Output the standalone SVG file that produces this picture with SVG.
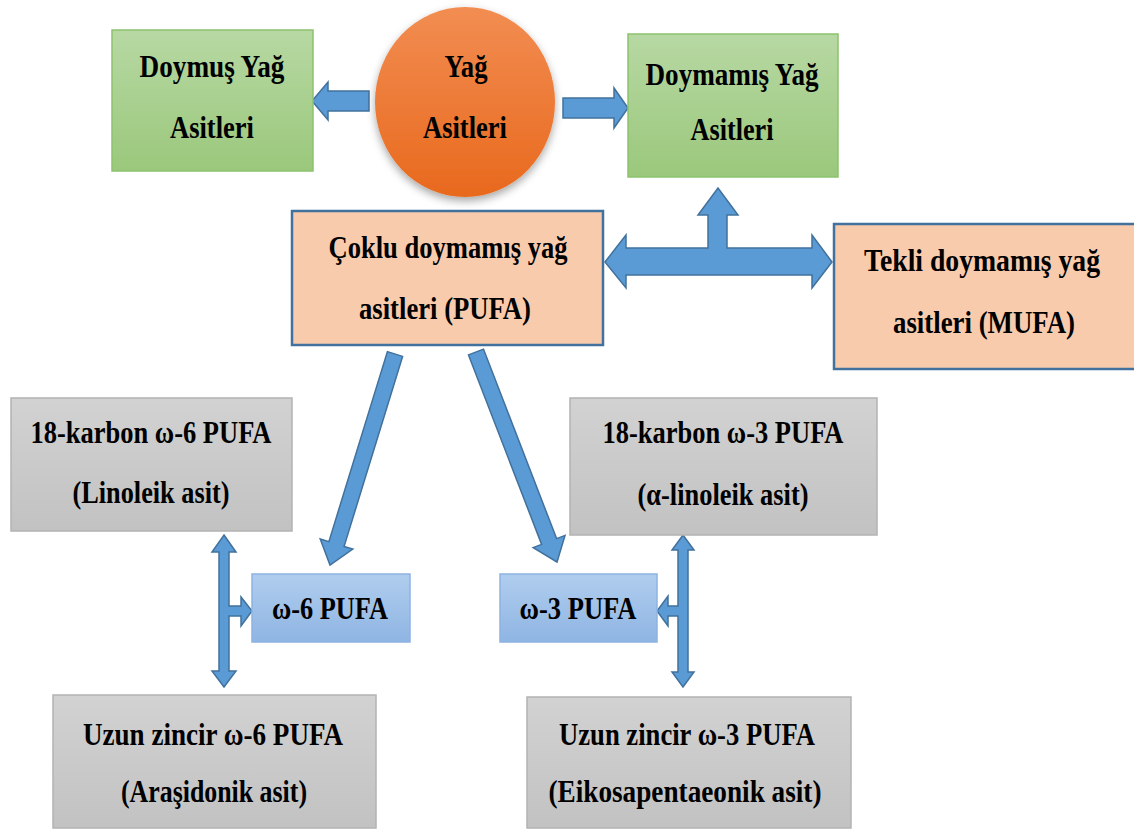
<svg xmlns="http://www.w3.org/2000/svg" width="1134" height="831" viewBox="0 0 1134 831">
<defs>
<linearGradient id="gGreen" x1="0" y1="0" x2="0" y2="1"><stop offset="0" stop-color="#b7d8a3"/><stop offset="1" stop-color="#9bc87c"/></linearGradient>
<linearGradient id="gOrange" x1="0" y1="0" x2="0" y2="1"><stop offset="0" stop-color="#f28d52"/><stop offset="1" stop-color="#e8691d"/></linearGradient>
<linearGradient id="gGray" x1="0" y1="0" x2="0" y2="1"><stop offset="0" stop-color="#d2d2d2"/><stop offset="1" stop-color="#c2c2c2"/></linearGradient>
<linearGradient id="gBlue" x1="0" y1="0" x2="0" y2="1"><stop offset="0" stop-color="#b0cdee"/><stop offset="1" stop-color="#8fb5e3"/></linearGradient>
<filter id="shadow" x="-20%" y="-20%" width="140%" height="150%"><feDropShadow dx="0" dy="4" stdDeviation="4" flood-color="#000" flood-opacity="0.35"/></filter>
</defs>
<style>
.t{font-family:"Liberation Serif","Times New Roman",serif;font-weight:bold;font-size:31px;fill:#000;text-anchor:middle}
.green{fill:url(#gGreen);stroke:#8dc26d;stroke-width:1.5}
.peach{fill:#f8cbad;stroke:#41719c;stroke-width:2.5}
.gray{fill:url(#gGray);stroke:#b3b3b3;stroke-width:1.5}
.blue{fill:url(#gBlue);stroke:#8db3e2;stroke-width:1.5}
.arrow{fill:#5b9bd5;stroke:#41719c;stroke-width:1.5;stroke-linejoin:miter}
</style>
<rect width="1134" height="831" fill="#fff"/>
<g id="connectors">
<polygon class="arrow" points="369,91 328,91 328,82 312,101 328,120 328,111 369,111"/>
<polygon class="arrow" points="563,98 614,98 614,88 628,108 614,128 614,118 563,118"/>
<polygon class="arrow" points="605,262 626,235 626,248 708,248 708,215 698,215 718,188 738,215 727,215 727,248 812,248 812,235 832,262 812,288 812,275 626,275 626,288"/>
<polygon class="arrow" points="387.4,351.6 328.9,541.6 320.2,539 330,565 352.8,549 344.1,546.4 402.6,356.4"/>
<polygon class="arrow" points="468.5,354.9 541.6,544.4 533.2,547.6 557,562 565,535.4 556.6,538.6 483.5,349.1"/>
<polygon class="arrow" points="224,535 236,552 229,552 229,606 241,606 241,597 252,611 241,626 241,616 229,616 229,671 236,671 224,687 212,671 219,671 219,552 212,552"/>
<polygon class="arrow" points="683,535 694,550 688,550 688,672 694,672 683,687 672,672 678,672 678,616 668,616 668,626 657,611 668,596 668,606 678,606 678,550 672,550"/>
</g>
<g id="doymus">
<rect class="green" x="112" y="30" width="201" height="141"/>
<text class="t" x="212" y="77" textLength="145" lengthAdjust="spacingAndGlyphs">Doymuş Yağ</text>
<text class="t" x="212" y="138" textLength="84" lengthAdjust="spacingAndGlyphs">Asitleri</text>
</g>
<g id="yag">
<ellipse cx="465" cy="102" rx="90" ry="95" fill="url(#gOrange)" filter="url(#shadow)"/>
<text class="t" x="466" y="77" textLength="43" lengthAdjust="spacingAndGlyphs">Yağ</text>
<text class="t" x="465" y="138" textLength="84" lengthAdjust="spacingAndGlyphs">Asitleri</text>
</g>
<g id="doymamis">
<rect class="green" x="628" y="34" width="210" height="143"/>
<text class="t" x="732" y="85" textLength="173" lengthAdjust="spacingAndGlyphs">Doymamış Yağ</text>
<text class="t" x="732" y="140" textLength="83" lengthAdjust="spacingAndGlyphs">Asitleri</text>
</g>
<g id="pufa">
<rect class="peach" x="292" y="211" width="311" height="134"/>
<text class="t" x="448" y="258" textLength="239" lengthAdjust="spacingAndGlyphs">Çoklu doymamış yağ</text>
<text class="t" x="445" y="319" textLength="172" lengthAdjust="spacingAndGlyphs">asitleri (PUFA)</text>
</g>
<g id="mufa">
<rect class="peach" x="834" y="224" width="302" height="145"/>
<text class="t" x="982" y="271" textLength="236" lengthAdjust="spacingAndGlyphs">Tekli doymamış yağ</text>
<text class="t" x="984" y="333" textLength="182" lengthAdjust="spacingAndGlyphs">asitleri (MUFA)</text>
</g>
<g id="c18w6">
<rect class="gray" x="11" y="398" width="281" height="133"/>
<text class="t" x="151" y="443" textLength="241" lengthAdjust="spacingAndGlyphs">18-karbon ω-6 PUFA</text>
<text class="t" x="151" y="503" textLength="157" lengthAdjust="spacingAndGlyphs">(Linoleik asit)</text>
</g>
<g id="c18w3">
<rect class="gray" x="570" y="398" width="307" height="137"/>
<text class="t" x="723" y="443" textLength="241" lengthAdjust="spacingAndGlyphs">18-karbon ω-3 PUFA</text>
<text class="t" x="723" y="505" textLength="171" lengthAdjust="spacingAndGlyphs">(α-linoleik asit)</text>
</g>
<g id="w6">
<rect class="blue" x="252" y="574" width="158" height="68"/>
<text class="t" x="330" y="619" textLength="116" lengthAdjust="spacingAndGlyphs">ω-6 PUFA</text>
</g>
<g id="w3">
<rect class="blue" x="500" y="574" width="157" height="68"/>
<text class="t" x="578" y="619" textLength="117" lengthAdjust="spacingAndGlyphs">ω-3 PUFA</text>
</g>
<g id="uzunw6">
<rect class="gray" x="53" y="695" width="323" height="133"/>
<text class="t" x="213" y="745" textLength="260" lengthAdjust="spacingAndGlyphs">Uzun zincir ω-6 PUFA</text>
<text class="t" x="214" y="802" textLength="186" lengthAdjust="spacingAndGlyphs">(Araşidonik asit)</text>
</g>
<g id="uzunw3">
<rect class="gray" x="527" y="697" width="324" height="131"/>
<text class="t" x="687" y="745" textLength="256" lengthAdjust="spacingAndGlyphs">Uzun zincir ω-3 PUFA</text>
<text class="t" x="685" y="802" textLength="273" lengthAdjust="spacingAndGlyphs">(Eikosapentaeonik asit)</text>
</g>
</svg>
